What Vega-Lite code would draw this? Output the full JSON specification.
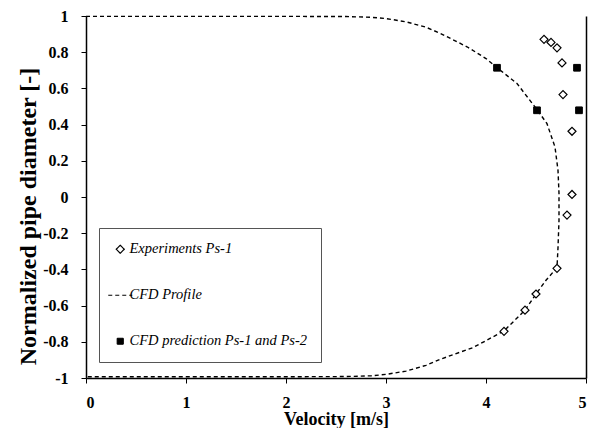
{
  "$schema": "https://vega.github.io/schema/vega-lite/v6.json",
  "width": 500,
  "height": 362,
  "autosize": {"type": "none"},
  "padding": {"left": 86, "top": 16, "right": 10, "bottom": 50},
  "background": "white",
  "config": {
    "view": {"stroke": null},
    "axis": {
      "labelFont": "Liberation Serif", "labelFontWeight": "bold", "labelFontSize": 16, "labelColor": "black",
      "titleFont": "Liberation Serif", "titleFontWeight": "bold", "titleFontSize": 18, "titleColor": "black",
      "domainColor": "black", "domainWidth": 1.5, "tickColor": "black", "tickSize": 5, "tickWidth": 1, "grid": false
    }
  },
  "datasets": {
    "profile": [
      {"i": 1, "v": 0, "d": 0.998, "series": "CFD Profile"},
      {"i": 2, "v": 1.0, "d": 0.998, "series": "CFD Profile"},
      {"i": 3, "v": 2.0, "d": 0.998, "series": "CFD Profile"},
      {"i": 4, "v": 2.6, "d": 0.997, "series": "CFD Profile"},
      {"i": 5, "v": 2.85, "d": 0.993, "series": "CFD Profile"},
      {"i": 6, "v": 3.0, "d": 0.986, "series": "CFD Profile"},
      {"i": 7, "v": 3.2, "d": 0.968, "series": "CFD Profile"},
      {"i": 8, "v": 3.4, "d": 0.938, "series": "CFD Profile"},
      {"i": 9, "v": 3.54, "d": 0.905, "series": "CFD Profile"},
      {"i": 10, "v": 3.81, "d": 0.83, "series": "CFD Profile"},
      {"i": 11, "v": 4.0, "d": 0.765, "series": "CFD Profile"},
      {"i": 12, "v": 4.12, "d": 0.71, "series": "CFD Profile"},
      {"i": 13, "v": 4.31, "d": 0.627, "series": "CFD Profile"},
      {"i": 14, "v": 4.51, "d": 0.483, "series": "CFD Profile"},
      {"i": 15, "v": 4.61, "d": 0.405, "series": "CFD Profile"},
      {"i": 16, "v": 4.69, "d": 0.276, "series": "CFD Profile"},
      {"i": 17, "v": 4.72, "d": 0.147, "series": "CFD Profile"},
      {"i": 18, "v": 4.73, "d": 0.02, "series": "CFD Profile"},
      {"i": 19, "v": 4.73, "d": -0.13, "series": "CFD Profile"},
      {"i": 20, "v": 4.72, "d": -0.28, "series": "CFD Profile"},
      {"i": 21, "v": 4.71, "d": -0.39, "series": "CFD Profile"},
      {"i": 22, "v": 4.6, "d": -0.46, "series": "CFD Profile"},
      {"i": 23, "v": 4.5, "d": -0.536, "series": "CFD Profile"},
      {"i": 24, "v": 4.39, "d": -0.625, "series": "CFD Profile"},
      {"i": 25, "v": 4.18, "d": -0.74, "series": "CFD Profile"},
      {"i": 26, "v": 3.87, "d": -0.832, "series": "CFD Profile"},
      {"i": 27, "v": 3.54, "d": -0.897, "series": "CFD Profile"},
      {"i": 28, "v": 3.4, "d": -0.93, "series": "CFD Profile"},
      {"i": 29, "v": 3.2, "d": -0.962, "series": "CFD Profile"},
      {"i": 30, "v": 3.0, "d": -0.98, "series": "CFD Profile"},
      {"i": 31, "v": 2.85, "d": -0.988, "series": "CFD Profile"},
      {"i": 32, "v": 2.6, "d": -0.992, "series": "CFD Profile"},
      {"i": 33, "v": 2.0, "d": -0.993, "series": "CFD Profile"},
      {"i": 34, "v": 1.0, "d": -0.993, "series": "CFD Profile"},
      {"i": 35, "v": 0, "d": -0.993, "series": "CFD Profile"}
    ],
    "experiments": [
      {"v": 4.58, "d": 0.871, "series": "Experiments Ps-1"},
      {"v": 4.65, "d": 0.854, "series": "Experiments Ps-1"},
      {"v": 4.71, "d": 0.824, "series": "Experiments Ps-1"},
      {"v": 4.76, "d": 0.741, "series": "Experiments Ps-1"},
      {"v": 4.77, "d": 0.566, "series": "Experiments Ps-1"},
      {"v": 4.86, "d": 0.363, "series": "Experiments Ps-1"},
      {"v": 4.86, "d": 0.014, "series": "Experiments Ps-1"},
      {"v": 4.81, "d": -0.1, "series": "Experiments Ps-1"},
      {"v": 4.71, "d": -0.394, "series": "Experiments Ps-1"},
      {"v": 4.5, "d": -0.536, "series": "Experiments Ps-1"},
      {"v": 4.39, "d": -0.625, "series": "Experiments Ps-1"},
      {"v": 4.18, "d": -0.742, "series": "Experiments Ps-1"}
    ],
    "prediction": [
      {"v": 4.11, "d": 0.714, "series": "CFD prediction Ps-1 and Ps-2"},
      {"v": 4.51, "d": 0.479, "series": "CFD prediction Ps-1 and Ps-2"},
      {"v": 4.91, "d": 0.714, "series": "CFD prediction Ps-1 and Ps-2"},
      {"v": 4.93, "d": 0.479, "series": "CFD prediction Ps-1 and Ps-2"}
    ]
  },
  "layer": [
    {
      "data": {"name": "profile"},
      "mark": {"type": "line", "color": "black", "strokeWidth": 1.4},
      "encoding": {
        "x": {"field": "v", "type": "quantitative", "scale": {"domain": [0, 5], "nice": false},
              "axis": {"values": [0, 1, 2, 3, 4, 5], "format": "d", "labelPadding": 11, "titlePadding": 0, "title": "Velocity [m/s]"}},
        "y": {"field": "d", "type": "quantitative", "scale": {"domain": [-1, 1], "nice": false},
              "axis": {"values": [-1, -0.8, -0.6, -0.4, -0.2, 0, 0.2, 0.4, 0.6, 0.8, 1], "labelExpr": "'' + datum.value", "labelPadding": 13, "titlePadding": 2, "titleFontSize": 24, "titleY": 200, "title": "Normalized pipe diameter [-]"}},
        "order": {"field": "i", "type": "quantitative"},
        "strokeDash": {"field": "series", "type": "nominal",
          "scale": {"domain": ["Experiments Ps-1", "CFD Profile", "CFD prediction Ps-1 and Ps-2"], "range": [[1, 0], [4, 3], [1, 0]]},
          "legend": {"title": null, "orient": "none", "legendX": 13, "legendY": 212, "padding": 14, "rowPadding": 31,
            "strokeColor": "#555", "fillColor": "white", "labelFont": "Liberation Serif", "labelFontStyle": "italic",
            "labelFontSize": 14.5, "labelColor": "black", "labelOffset": 2, "labelLimit": 300,
            "symbolSize": 576, "symbolStrokeColor": "black", "symbolStrokeWidth": 1.2,
            "encode": {"symbols": {"update": {"size": {"signal": "datum.value === 'CFD Profile' ? 576 : datum.value === 'Experiments Ps-1' ? 64 : 36"}}}}}}
      }
    },
    {
      "data": {"name": "experiments"},
      "mark": {"type": "point", "stroke": "black", "strokeWidth": 1.2, "opacity": 1, "size": 64},
      "encoding": {
        "x": {"field": "v", "type": "quantitative"},
        "y": {"field": "d", "type": "quantitative", "axis": null},
        "shape": {"field": "series", "type": "nominal",
          "scale": {"domain": ["Experiments Ps-1", "CFD Profile", "CFD prediction Ps-1 and Ps-2"], "range": ["diamond", "stroke", "square"]}},
        "fill": {"field": "series", "type": "nominal",
          "scale": {"domain": ["Experiments Ps-1", "CFD Profile", "CFD prediction Ps-1 and Ps-2"], "range": ["white", "transparent", "black"]}}
      }
    },
    {
      "data": {"name": "prediction"},
      "mark": {"type": "point", "stroke": "black", "strokeWidth": 1, "opacity": 1, "size": 45},
      "encoding": {
        "x": {"field": "v", "type": "quantitative"},
        "y": {"field": "d", "type": "quantitative",
              "axis": {"orient": "right", "labels": false, "ticks": false, "title": null, "domain": true}},
        "shape": {"field": "series", "type": "nominal"},
        "fill": {"field": "series", "type": "nominal"}
      }
    }
  ],
  "resolve": {"axis": {"y": "independent"}}
}
